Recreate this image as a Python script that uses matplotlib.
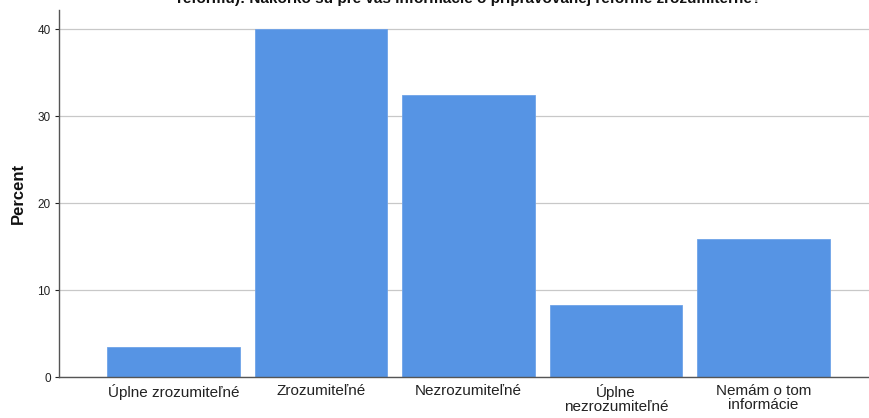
"""
Bar chart: understandability of reform information
"""

import matplotlib
matplotlib.use("Agg")
import matplotlib.pyplot as plt
import numpy as np

plt.rcParams["font.family"] = ["Liberation Sans", "DejaVu Sans"]

categories = [
    "Úplne zrozumiteľné",
    "Zrozumiteľné",
    "Nezrozumiteľné",
    "Úplne\nnezrozumiteľné",
    "Nemám o tom\ninformácie",
]
percents = [3.4, 40.0, 32.4, 8.3, 15.9]
yticks = [0, 10, 20, 30, 40]

title_line = "reformu): Nakoľko sú pre vás informácie o pripravovanej reforme zrozumiteľné?"

fig = plt.figure(figsize=(8.69, 4.18), dpi=100, facecolor="white")
ax = fig.add_axes([59 / 869, 1 - 377 / 418, 1 - 59 / 869, 367 / 418])

x = np.arange(len(categories))
ax.set_axisbelow(True)
ax.grid(True, axis="y", color="#C8C8C8", linewidth=0.9)
ax.bar(x, percents, width=0.9, color="#5694E4", edgecolor="#6FA3E8", linewidth=0.6)

ax.set_xlim(-0.776, 4.715)
ax.set_ylim(0, 42.2)
ax.set_xticks(x)
ax.set_xticklabels(categories, fontsize=11, color="#222222", linespacing=1.0)
ax.set_yticks(yticks)
ax.tick_params(axis="y", labelsize=8.5, colors="#222222", length=3, width=0.8, pad=3)
ax.tick_params(axis="x", length=0, pad=5)

for side in ("top", "right"):
    ax.spines[side].set_visible(False)
for side in ("left", "bottom"):
    ax.spines[side].set_color("#555555")
    ax.spines[side].set_linewidth(1.0)

ax.set_ylabel("Percent", fontsize=12, fontweight="bold", color="#111111", labelpad=8)

fig.text(0.54, 1 - 3 / 418, title_line, ha="center", va="baseline",
         fontsize=11, fontweight="bold", color="#111111")

fig.savefig("out.png", dpi=100, facecolor=fig.get_facecolor())
plt.close(fig)
